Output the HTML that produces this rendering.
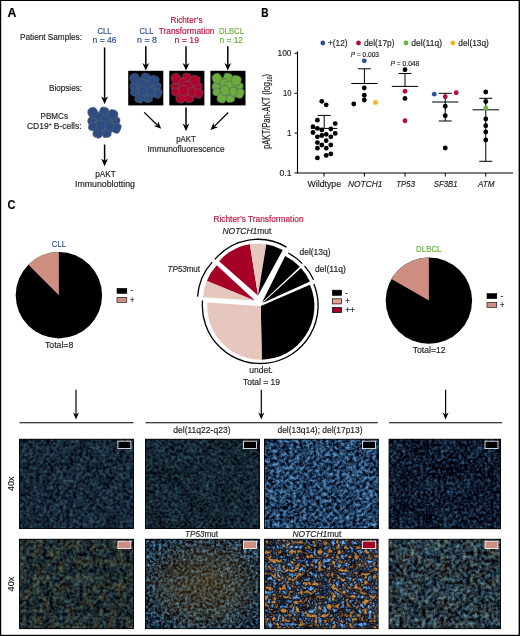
<!DOCTYPE html>
<html lang="en"><head><meta charset="utf-8"><title>Figure</title>
<style>html,body{margin:0;padding:0;background:#fff}svg{display:block}text{font-family:"Liberation Sans", sans-serif;stroke-width:0.18px}</style></head><body>
<svg width="520" height="636" viewBox="0 0 520 636">
<defs>
<filter id="f1" x="0" y="0" width="100%" height="100%" color-interpolation-filters="sRGB">
<feTurbulence type="fractalNoise" baseFrequency="0.3" numOctaves="3" seed="3" result="n1"/>
<feColorMatrix in="n1" type="matrix" values="0.3 0 0 0 -0.060  0.5 0 0 0 -0.093  0.45 0 0 0 -0.013  0 0 0 0 1" result="a"/>
<feTurbulence type="fractalNoise" baseFrequency="0.07" numOctaves="2" seed="31" result="n2"/>
<feColorMatrix in="n2" type="matrix" values="0.090 0 0 0 0.455  0.150 0 0 0 0.425  0.180 0 0 0 0.410  0 0 0 0 1" result="b"/>
<feComposite in="a" in2="b" operator="arithmetic" k1="0" k2="1" k3="1" k4="-0.5" result="ab"/>
</filter>
<filter id="f2" x="0" y="0" width="100%" height="100%" color-interpolation-filters="sRGB">
<feTurbulence type="fractalNoise" baseFrequency="0.32" numOctaves="3" seed="7" result="n1"/>
<feColorMatrix in="n1" type="matrix" values="0.28 0 0 0 -0.058  0.46 0 0 0 -0.081  0.42 0 0 0 -0.014  0 0 0 0 1" result="a"/>
<feTurbulence type="fractalNoise" baseFrequency="0.06" numOctaves="2" seed="32" result="n2"/>
<feColorMatrix in="n2" type="matrix" values="0.090 0 0 0 0.455  0.150 0 0 0 0.425  0.180 0 0 0 0.410  0 0 0 0 1" result="b"/>
<feComposite in="a" in2="b" operator="arithmetic" k1="0" k2="1" k3="1" k4="-0.5" result="ab"/>
</filter>
<filter id="f3" x="0" y="0" width="100%" height="100%" color-interpolation-filters="sRGB">
<feTurbulence type="fractalNoise" baseFrequency="0.3" numOctaves="3" seed="11" result="n1"/>
<feColorMatrix in="n1" type="matrix" values="0.7 0 0 0 -0.213  1.05 0 0 0 -0.270  1.3 0 0 0 -0.266  0 0 0 0 1" result="a"/>
<feTurbulence type="fractalNoise" baseFrequency="0.05" numOctaves="2" seed="33" result="n2"/>
<feColorMatrix in="n2" type="matrix" values="0.120 0 0 0 0.440  0.200 0 0 0 0.400  0.240 0 0 0 0.380  0 0 0 0 1" result="b"/>
<feComposite in="a" in2="b" operator="arithmetic" k1="0" k2="1" k3="1" k4="-0.5" result="ab"/>
</filter>
<filter id="f4" x="0" y="0" width="100%" height="100%" color-interpolation-filters="sRGB">
<feTurbulence type="fractalNoise" baseFrequency="0.34" numOctaves="3" seed="13" result="n1"/>
<feColorMatrix in="n1" type="matrix" values="0.4 0 0 0 -0.149  0.7 0 0 0 -0.248  0.8 0 0 0 -0.220  0 0 0 0 1" result="a"/>
<feTurbulence type="fractalNoise" baseFrequency="0.05" numOctaves="2" seed="34" result="n2"/>
<feColorMatrix in="n2" type="matrix" values="0.120 0 0 0 0.440  0.200 0 0 0 0.400  0.240 0 0 0 0.380  0 0 0 0 1" result="b"/>
<feComposite in="a" in2="b" operator="arithmetic" k1="0" k2="1" k3="1" k4="-0.5" result="ab"/>
</filter>
<filter id="f5" x="0" y="0" width="100%" height="100%" color-interpolation-filters="sRGB">
<feTurbulence type="fractalNoise" baseFrequency="0.3" numOctaves="3" seed="17" result="n1"/>
<feColorMatrix in="n1" type="matrix" values="0.4 0 0 0 -0.114  0.6 0 0 0 -0.151  0.5 0 0 0 -0.070  0 0 0 0 1" result="a"/>
<feTurbulence type="fractalNoise" baseFrequency="0.07" numOctaves="2" seed="35" result="n2"/>
<feColorMatrix in="n2" type="matrix" values="0.090 0 0 0 0.455  0.150 0 0 0 0.425  0.180 0 0 0 0.410  0 0 0 0 1" result="b"/>
<feComposite in="a" in2="b" operator="arithmetic" k1="0" k2="1" k3="1" k4="-0.5" result="ab"/>
<feTurbulence type="fractalNoise" baseFrequency="0.12" numOctaves="2" seed="5" result="n3"/>
<feColorMatrix in="n3" type="matrix" values="0 0.300 0 0 -0.102  0 0.198 0 0 -0.067  0 0.024 0 0 -0.008  0 0 0 0 1" result="o"/>
<feComposite in="ab" in2="o" operator="arithmetic" k1="0" k2="1" k3="1" k4="0"/>
</filter>
<filter id="f6" x="0" y="0" width="100%" height="100%" color-interpolation-filters="sRGB">
<feTurbulence type="fractalNoise" baseFrequency="0.34" numOctaves="3" seed="19" result="n1"/>
<feColorMatrix in="n1" type="matrix" values="0.7 0 0 0 -0.248  1.1 0 0 0 -0.354  1.3 0 0 0 -0.375  0 0 0 0 1" result="a"/>
<feTurbulence type="fractalNoise" baseFrequency="0.05" numOctaves="2" seed="36" result="n2"/>
<feColorMatrix in="n2" type="matrix" values="0.120 0 0 0 0.440  0.200 0 0 0 0.400  0.240 0 0 0 0.380  0 0 0 0 1" result="b"/>
<feComposite in="a" in2="b" operator="arithmetic" k1="0" k2="1" k3="1" k4="-0.5" result="ab"/>
</filter>
<filter id="f8" x="0" y="0" width="100%" height="100%" color-interpolation-filters="sRGB">
<feTurbulence type="fractalNoise" baseFrequency="0.27" numOctaves="3" seed="29" result="n1"/>
<feColorMatrix in="n1" type="matrix" values="0.65 0 0 0 -0.207  0.95 0 0 0 -0.279  1.0 0 0 0 -0.249  0 0 0 0 1" result="a"/>
<feTurbulence type="fractalNoise" baseFrequency="0.05" numOctaves="2" seed="38" result="n2"/>
<feColorMatrix in="n2" type="matrix" values="0.120 0 0 0 0.440  0.200 0 0 0 0.400  0.240 0 0 0 0.380  0 0 0 0 1" result="b"/>
<feComposite in="a" in2="b" operator="arithmetic" k1="0" k2="1" k3="1" k4="-0.5" result="ab"/>
<feTurbulence type="fractalNoise" baseFrequency="0.1" numOctaves="2" seed="8" result="n3"/>
<feColorMatrix in="n3" type="matrix" values="0 0.250 0 0 -0.085  0 0.170 0 0 -0.058  0 0.030 0 0 -0.010  0 0 0 0 1" result="o"/>
<feComposite in="ab" in2="o" operator="arithmetic" k1="0" k2="1" k3="1" k4="0"/>
</filter>
<filter id="f7" x="0" y="0" width="100%" height="100%" color-interpolation-filters="sRGB">
<feTurbulence type="fractalNoise" baseFrequency="0.22" numOctaves="3" seed="23" result="n1"/>
<feColorMatrix in="n1" type="matrix" values="3.6 0 0 0 -1.836  3.6 0 0 0 -1.836  3.6 0 0 0 -1.836  0 0 0 0 1" result="bg"/>
<feColorMatrix in="bg" type="matrix" values="0.392 0 0 0 0.016  0 0.627 0 0 0.039  0 0 0.804 0 0.110  0 0 0 0 1" result="b"/>
<feColorMatrix in="n1" type="matrix" values="-3.8 0 0 0 1.976  -3.8 0 0 0 1.976  -3.8 0 0 0 1.976  0 0 0 0 1" result="og"/>
<feTurbulence type="fractalNoise" baseFrequency="0.09" numOctaves="2" seed="4" result="n3"/>
<feColorMatrix in="n3" type="matrix" values="0 6 0 0 -0.600  0 6 0 0 -0.600  0 6 0 0 -0.600  0 0 0 0 1" result="m"/>
<feComposite in="og" in2="m" operator="arithmetic" k1="1" k2="0" k3="0" k4="0" result="om"/>
<feColorMatrix in="om" type="matrix" values="0.745 0 0 0 0  0 0.490 0 0 0  0 0 0.137 0 0  0 0 0 0 1" result="o"/>
<feComposite in="b" in2="o" operator="arithmetic" k1="0" k2="1" k3="1" k4="0" result="bo"/>
<feTurbulence type="fractalNoise" baseFrequency="0.05" numOctaves="2" seed="40" result="n2"/>
<feColorMatrix in="n2" type="matrix" values="0.2 0 0 0 0.400  0.2 0 0 0 0.400  0.2 0 0 0 0.400  0 0 0 0 1" result="l"/>
<feComposite in="bo" in2="l" operator="arithmetic" k1="0" k2="1" k3="1" k4="-0.5" result="fin"/>
<feGaussianBlur in="fin" stdDeviation="0.5" result="bl"/>
<feComposite in="bl" in2="SourceGraphic" operator="in"/>
</filter>
<radialGradient id="hz" cx="0.52" cy="0.5" r="0.62"><stop offset="0" stop-color="#8a5a14" stop-opacity="0.42"/><stop offset="0.6" stop-color="#8a5a14" stop-opacity="0.22"/><stop offset="1" stop-color="#8a5a14" stop-opacity="0"/></radialGradient>
</defs>
<rect x="0" y="0" width="520" height="636" fill="#fff"/>
<rect x="0" y="0" width="1.2" height="636" fill="#000"/>
<rect x="518.6" y="0" width="1.4" height="636" fill="#000"/>
<rect x="0" y="0" width="520" height="1" fill="#000"/>
<rect x="0" y="634.8" width="520" height="1.2" fill="#000"/>
<text x="7.40" y="16.90" font-size="12.6" fill="#000" stroke="#000" textLength="8.90" lengthAdjust="spacingAndGlyphs" font-weight="bold">A</text>
<text x="20.00" y="40.20" font-size="9" fill="#231f20" stroke="#231f20" textLength="62.00" lengthAdjust="spacingAndGlyphs">Patient Samples:</text>
<text x="49.00" y="90.70" font-size="9" fill="#231f20" stroke="#231f20" textLength="33.00" lengthAdjust="spacingAndGlyphs">Biopsies:</text>
<text x="40.50" y="118.60" font-size="9" fill="#231f20" stroke="#231f20" textLength="27.50" lengthAdjust="spacingAndGlyphs">PBMCs</text>
<text x="27" y="129.4" font-size="9" fill="#231f20" stroke="#231f20" textLength="54.5" lengthAdjust="spacingAndGlyphs">CD19<tspan font-size="5" dy="-3">+</tspan><tspan dy="3"> B-cells:</tspan></text>
<text x="97.50" y="33.50" font-size="9" fill="#30508f" stroke="#30508f" textLength="14.00" lengthAdjust="spacingAndGlyphs">CLL</text>
<text x="92.50" y="43.00" font-size="9" fill="#30508f" stroke="#30508f" textLength="24.00" lengthAdjust="spacingAndGlyphs">n = 46</text>
<text x="139.50" y="33.50" font-size="9" fill="#30508f" stroke="#30508f" textLength="14.00" lengthAdjust="spacingAndGlyphs">CLL</text>
<text x="137.00" y="43.00" font-size="9" fill="#30508f" stroke="#30508f" textLength="20.00" lengthAdjust="spacingAndGlyphs">n = 8</text>
<text x="170.50" y="23.00" font-size="9" fill="#c0143c" stroke="#c0143c" textLength="32.00" lengthAdjust="spacingAndGlyphs">Richter’s</text>
<text x="158.80" y="33.50" font-size="9" fill="#c0143c" stroke="#c0143c" textLength="55.70" lengthAdjust="spacingAndGlyphs">Transformation</text>
<text x="174.50" y="43.00" font-size="9" fill="#c0143c" stroke="#c0143c" textLength="24.50" lengthAdjust="spacingAndGlyphs">n = 19</text>
<text x="219.00" y="33.50" font-size="9" fill="#6ab43e" stroke="#6ab43e" textLength="25.00" lengthAdjust="spacingAndGlyphs">DLBCL</text>
<text x="219.50" y="43.00" font-size="9" fill="#6ab43e" stroke="#6ab43e" textLength="23.50" lengthAdjust="spacingAndGlyphs">n = 12</text>
<line x1="104.60" y1="47.50" x2="104.60" y2="98.53" stroke="#000" stroke-width="1.5"/>
<path d="M104.60 104.00L101.20 96.40L104.60 98.53L108.00 96.40Z" fill="#000"/>
<line x1="145.80" y1="46.20" x2="145.80" y2="65.13" stroke="#000" stroke-width="1.5"/>
<path d="M145.80 70.60L142.40 63.00L145.80 65.13L149.20 63.00Z" fill="#000"/>
<line x1="186.00" y1="46.20" x2="186.00" y2="65.13" stroke="#000" stroke-width="1.5"/>
<path d="M186.00 70.60L182.60 63.00L186.00 65.13L189.40 63.00Z" fill="#000"/>
<line x1="227.80" y1="46.20" x2="227.80" y2="65.13" stroke="#000" stroke-width="1.5"/>
<path d="M227.80 70.60L224.40 63.00L227.80 65.13L231.20 63.00Z" fill="#000"/>
<rect x="128.2" y="70.8" width="35.1" height="34.6" fill="#000"/>
<rect x="169.3" y="70.8" width="35.1" height="34.6" fill="#000"/>
<rect x="210.4" y="70.8" width="35.1" height="34.6" fill="#000"/>
<g transform="translate(129.90 73.20) scale(0.965)" fill="#2d4c82" stroke="#58606e" stroke-width="0.55">
<ellipse cx="16.8" cy="15.2" rx="14" ry="11.8" stroke="none"/>
<rect x="0.00" y="9.98" width="7.95" height="7.61" rx="3.26" ry="3.12" transform="rotate(0 3.98 13.79)"/>
<rect x="24.87" y="9.81" width="7.28" height="7.45" rx="2.98" ry="3.05" transform="rotate(10 28.51 13.54)"/>
<rect x="11.84" y="0.00" width="8.97" height="9.14" rx="3.68" ry="3.75" transform="rotate(10 16.33 4.57)"/>
<rect x="0.34" y="0.25" width="9.81" height="11.00" rx="4.02" ry="4.51" transform="rotate(-25 5.25 5.75)"/>
<rect x="8.04" y="5.75" width="8.46" height="8.12" rx="3.47" ry="3.33" transform="rotate(-25 12.27 9.81)"/>
<rect x="12.27" y="8.71" width="10.15" height="8.46" rx="4.16" ry="3.47" transform="rotate(0 17.34 12.94)"/>
<rect x="19.88" y="2.54" width="10.15" height="9.98" rx="4.16" ry="4.09" transform="rotate(15 24.96 7.53)"/>
<rect x="0.76" y="15.40" width="8.12" height="8.12" rx="3.33" ry="3.33" transform="rotate(10 4.82 19.46)"/>
<rect x="24.79" y="15.91" width="8.12" height="10.15" rx="3.33" ry="4.16" transform="rotate(20 28.85 20.98)"/>
<rect x="14.30" y="22.17" width="8.97" height="8.12" rx="3.68" ry="3.33" transform="rotate(-10 18.78 26.23)"/>
<rect x="5.33" y="20.56" width="9.48" height="10.15" rx="3.88" ry="4.16" transform="rotate(15 10.07 25.63)"/>
<rect x="17.68" y="14.64" width="8.12" height="9.31" rx="3.33" ry="3.82" transform="rotate(5 21.74 19.29)"/>
<rect x="8.63" y="12.94" width="9.14" height="10.15" rx="3.75" ry="4.16" transform="rotate(-5 13.20 18.02)"/>
</g>
<g transform="translate(171.00 73.20) scale(0.965)" fill="#b0022c" stroke="#58606e" stroke-width="0.55">
<ellipse cx="16.8" cy="15.2" rx="14" ry="11.8" stroke="none"/>
<rect x="0.00" y="9.98" width="7.95" height="7.61" rx="3.26" ry="3.12" transform="rotate(0 3.98 13.79)"/>
<rect x="24.87" y="9.81" width="7.28" height="7.45" rx="2.98" ry="3.05" transform="rotate(10 28.51 13.54)"/>
<rect x="11.84" y="0.00" width="8.97" height="9.14" rx="3.68" ry="3.75" transform="rotate(10 16.33 4.57)"/>
<rect x="0.34" y="0.25" width="9.81" height="11.00" rx="4.02" ry="4.51" transform="rotate(-25 5.25 5.75)"/>
<rect x="8.04" y="5.75" width="8.46" height="8.12" rx="3.47" ry="3.33" transform="rotate(-25 12.27 9.81)"/>
<rect x="12.27" y="8.71" width="10.15" height="8.46" rx="4.16" ry="3.47" transform="rotate(0 17.34 12.94)"/>
<rect x="19.88" y="2.54" width="10.15" height="9.98" rx="4.16" ry="4.09" transform="rotate(15 24.96 7.53)"/>
<rect x="0.76" y="15.40" width="8.12" height="8.12" rx="3.33" ry="3.33" transform="rotate(10 4.82 19.46)"/>
<rect x="24.79" y="15.91" width="8.12" height="10.15" rx="3.33" ry="4.16" transform="rotate(20 28.85 20.98)"/>
<rect x="14.30" y="22.17" width="8.97" height="8.12" rx="3.68" ry="3.33" transform="rotate(-10 18.78 26.23)"/>
<rect x="5.33" y="20.56" width="9.48" height="10.15" rx="3.88" ry="4.16" transform="rotate(15 10.07 25.63)"/>
<rect x="17.68" y="14.64" width="8.12" height="9.31" rx="3.33" ry="3.82" transform="rotate(5 21.74 19.29)"/>
<rect x="8.63" y="12.94" width="9.14" height="10.15" rx="3.75" ry="4.16" transform="rotate(-5 13.20 18.02)"/>
</g>
<g transform="translate(212.10 73.20) scale(0.965)" fill="#6bad3d" stroke="#58606e" stroke-width="0.55">
<ellipse cx="16.8" cy="15.2" rx="14" ry="11.8" stroke="none"/>
<rect x="0.00" y="9.98" width="7.95" height="7.61" rx="3.26" ry="3.12" transform="rotate(0 3.98 13.79)"/>
<rect x="24.87" y="9.81" width="7.28" height="7.45" rx="2.98" ry="3.05" transform="rotate(10 28.51 13.54)"/>
<rect x="11.84" y="0.00" width="8.97" height="9.14" rx="3.68" ry="3.75" transform="rotate(10 16.33 4.57)"/>
<rect x="0.34" y="0.25" width="9.81" height="11.00" rx="4.02" ry="4.51" transform="rotate(-25 5.25 5.75)"/>
<rect x="8.04" y="5.75" width="8.46" height="8.12" rx="3.47" ry="3.33" transform="rotate(-25 12.27 9.81)"/>
<rect x="12.27" y="8.71" width="10.15" height="8.46" rx="4.16" ry="3.47" transform="rotate(0 17.34 12.94)"/>
<rect x="19.88" y="2.54" width="10.15" height="9.98" rx="4.16" ry="4.09" transform="rotate(15 24.96 7.53)"/>
<rect x="0.76" y="15.40" width="8.12" height="8.12" rx="3.33" ry="3.33" transform="rotate(10 4.82 19.46)"/>
<rect x="24.79" y="15.91" width="8.12" height="10.15" rx="3.33" ry="4.16" transform="rotate(20 28.85 20.98)"/>
<rect x="14.30" y="22.17" width="8.97" height="8.12" rx="3.68" ry="3.33" transform="rotate(-10 18.78 26.23)"/>
<rect x="5.33" y="20.56" width="9.48" height="10.15" rx="3.88" ry="4.16" transform="rotate(15 10.07 25.63)"/>
<rect x="17.68" y="14.64" width="8.12" height="9.31" rx="3.33" ry="3.82" transform="rotate(5 21.74 19.29)"/>
<rect x="8.63" y="12.94" width="9.14" height="10.15" rx="3.75" ry="4.16" transform="rotate(-5 13.20 18.02)"/>
</g>
<g transform="translate(87.80 107.20) scale(1.0)" fill="#2d4c82" stroke="#58606e" stroke-width="0.55">
<ellipse cx="16.8" cy="15.2" rx="14" ry="11.8" stroke="none"/>
<rect x="0.00" y="9.98" width="7.95" height="7.61" rx="3.26" ry="3.12" transform="rotate(0 3.98 13.79)"/>
<rect x="24.87" y="9.81" width="7.28" height="7.45" rx="2.98" ry="3.05" transform="rotate(10 28.51 13.54)"/>
<rect x="11.84" y="0.00" width="8.97" height="9.14" rx="3.68" ry="3.75" transform="rotate(10 16.33 4.57)"/>
<rect x="0.34" y="0.25" width="9.81" height="11.00" rx="4.02" ry="4.51" transform="rotate(-25 5.25 5.75)"/>
<rect x="8.04" y="5.75" width="8.46" height="8.12" rx="3.47" ry="3.33" transform="rotate(-25 12.27 9.81)"/>
<rect x="12.27" y="8.71" width="10.15" height="8.46" rx="4.16" ry="3.47" transform="rotate(0 17.34 12.94)"/>
<rect x="19.88" y="2.54" width="10.15" height="9.98" rx="4.16" ry="4.09" transform="rotate(15 24.96 7.53)"/>
<rect x="0.76" y="15.40" width="8.12" height="8.12" rx="3.33" ry="3.33" transform="rotate(10 4.82 19.46)"/>
<rect x="24.79" y="15.91" width="8.12" height="10.15" rx="3.33" ry="4.16" transform="rotate(20 28.85 20.98)"/>
<rect x="14.30" y="22.17" width="8.97" height="8.12" rx="3.68" ry="3.33" transform="rotate(-10 18.78 26.23)"/>
<rect x="5.33" y="20.56" width="9.48" height="10.15" rx="3.88" ry="4.16" transform="rotate(15 10.07 25.63)"/>
<rect x="17.68" y="14.64" width="8.12" height="9.31" rx="3.33" ry="3.82" transform="rotate(5 21.74 19.29)"/>
<rect x="8.63" y="12.94" width="9.14" height="10.15" rx="3.75" ry="4.16" transform="rotate(-5 13.20 18.02)"/>
</g>
<line x1="144.20" y1="112.40" x2="157.47" y2="125.20" stroke="#000" stroke-width="1.3"/>
<path d="M161.20 128.80L153.80 126.10L157.47 125.20L158.24 121.50Z" fill="#000"/>
<line x1="186.00" y1="107.40" x2="186.00" y2="125.73" stroke="#000" stroke-width="1.5"/>
<path d="M186.00 131.20L182.60 123.60L186.00 125.73L189.40 123.60Z" fill="#000"/>
<line x1="228.20" y1="112.50" x2="214.28" y2="126.34" stroke="#000" stroke-width="1.3"/>
<path d="M210.60 130.00L213.45 122.65L214.28 126.34L217.96 127.19Z" fill="#000"/>
<text x="176.20" y="142.20" font-size="9" fill="#231f20" stroke="#231f20" textLength="19.60" lengthAdjust="spacingAndGlyphs">pAKT</text>
<text x="147.50" y="152.00" font-size="9" fill="#231f20" stroke="#231f20" textLength="77.00" lengthAdjust="spacingAndGlyphs">Immunofluorescence</text>
<line x1="104.60" y1="144.50" x2="104.60" y2="160.83" stroke="#000" stroke-width="1.5"/>
<path d="M104.60 166.30L101.20 158.70L104.60 160.83L108.00 158.70Z" fill="#000"/>
<text x="95.30" y="176.90" font-size="9" fill="#231f20" stroke="#231f20" textLength="20.40" lengthAdjust="spacingAndGlyphs">pAKT</text>
<text x="75.00" y="186.70" font-size="9" fill="#231f20" stroke="#231f20" textLength="60.00" lengthAdjust="spacingAndGlyphs">Immunoblotting</text>
<text x="261.20" y="16.80" font-size="12.6" fill="#000" stroke="#000" textLength="7.30" lengthAdjust="spacingAndGlyphs" font-weight="bold">B</text>
<circle cx="322.80" cy="43.00" r="2.4" fill="#2c4f9a"/>
<text x="328.00" y="45.80" font-size="9" fill="#231f20" stroke="#231f20" textLength="19.50" lengthAdjust="spacingAndGlyphs">+(12)</text>
<circle cx="358.50" cy="43.00" r="2.4" fill="#b5102f"/>
<text x="364.00" y="45.80" font-size="9" fill="#231f20" stroke="#231f20" textLength="30.50" lengthAdjust="spacingAndGlyphs">del(17p)</text>
<circle cx="406.00" cy="43.00" r="2.4" fill="#6cb33f"/>
<text x="411.30" y="45.80" font-size="9" fill="#231f20" stroke="#231f20" textLength="30.70" lengthAdjust="spacingAndGlyphs">del(11q)</text>
<circle cx="452.80" cy="43.00" r="2.4" fill="#f2b51c"/>
<text x="458.30" y="45.80" font-size="9" fill="#231f20" stroke="#231f20" textLength="30.50" lengthAdjust="spacingAndGlyphs">del(13q)</text>
<path d="M297.5 51.2V173.5M297 173H513" stroke="#000" stroke-width="1.1" fill="none"/>
<line x1="294.6" x2="297.5" y1="53.25" y2="53.25" stroke="#000" stroke-width="1"/>
<line x1="294.6" x2="297.5" y1="93.25" y2="93.25" stroke="#000" stroke-width="1"/>
<line x1="294.6" x2="297.5" y1="133.1" y2="133.1" stroke="#000" stroke-width="1"/>
<line x1="294.6" x2="297.5" y1="173" y2="173" stroke="#000" stroke-width="1"/>
<line x1="324" x2="324" y1="173" y2="176.6" stroke="#000" stroke-width="1"/>
<line x1="364.4" x2="364.4" y1="173" y2="176.6" stroke="#000" stroke-width="1"/>
<line x1="405" x2="405" y1="173" y2="176.6" stroke="#000" stroke-width="1"/>
<line x1="445.25" x2="445.25" y1="173" y2="176.6" stroke="#000" stroke-width="1"/>
<line x1="485.75" x2="485.75" y1="173" y2="176.6" stroke="#000" stroke-width="1"/>
<text x="277.50" y="56.20" font-size="9" fill="#231f20" stroke="#231f20" textLength="14.00" lengthAdjust="spacingAndGlyphs">100</text>
<text x="283.00" y="96.20" font-size="9" fill="#231f20" stroke="#231f20" textLength="8.50" lengthAdjust="spacingAndGlyphs">10</text>
<text x="287.00" y="136.00" font-size="9" fill="#231f20" stroke="#231f20" textLength="4.50" lengthAdjust="spacingAndGlyphs">1</text>
<text x="279.50" y="176.00" font-size="9" fill="#231f20" stroke="#231f20" textLength="12.00" lengthAdjust="spacingAndGlyphs">0.1</text>
<text transform="translate(270.4 149) rotate(-90)" font-size="10" fill="#231f20" stroke="#231f20" textLength="75" lengthAdjust="spacingAndGlyphs">pAKT/Pan-AKT (log<tspan font-size="6.5" dy="1.5">10</tspan><tspan dy="-1.5">)</tspan></text>
<text x="307.50" y="187.00" font-size="9" fill="#231f20" stroke="#231f20" textLength="33.50" lengthAdjust="spacingAndGlyphs">Wildtype</text>
<text x="348.00" y="187.00" font-size="9" fill="#231f20" stroke="#231f20" textLength="34.50" lengthAdjust="spacingAndGlyphs" font-style="italic">NOTCH1</text>
<text x="396.30" y="187.00" font-size="9" fill="#231f20" stroke="#231f20" textLength="18.70" lengthAdjust="spacingAndGlyphs" font-style="italic">TP53</text>
<text x="433.80" y="187.00" font-size="9" fill="#231f20" stroke="#231f20" textLength="23.70" lengthAdjust="spacingAndGlyphs" font-style="italic">SF3B1</text>
<text x="478.00" y="187.00" font-size="9" fill="#231f20" stroke="#231f20" textLength="16.50" lengthAdjust="spacingAndGlyphs" font-style="italic">ATM</text>
<text x="350.80" y="56.80" font-size="7.3" fill="#231f20" stroke="#231f20" textLength="28.20" lengthAdjust="spacingAndGlyphs"><tspan font-style="italic">P</tspan> = 0.003</text>
<text x="390.50" y="66.30" font-size="7.3" fill="#231f20" stroke="#231f20" textLength="28.80" lengthAdjust="spacingAndGlyphs"><tspan font-style="italic">P</tspan> = 0.048</text>
<path d="M311.0 128.4H337.4M317.7 115.4H330.7M324.2 115.4V128.4" stroke="#000" stroke-width="1" fill="none"/>
<path d="M351.2 83.5H377.59999999999997M357.9 68.8H370.9M364.4 68.8V83.5" stroke="#000" stroke-width="1" fill="none"/>
<path d="M391.8 86.4H418.2M398.5 73.5H411.5M405 73.5V86.4" stroke="#000" stroke-width="1" fill="none"/>
<path d="M432.05 102H458.45M438.75 93.3H451.75M445.25 93.3V102M438.75 121H451.75M445.25 102V121" stroke="#000" stroke-width="1" fill="none"/>
<path d="M472.55 109.8H498.95M479.25 98.3H492.25M485.75 98.3V109.8M479.25 161.3H492.25M485.75 109.8V161.3" stroke="#000" stroke-width="1" fill="none"/>
<circle cx="321.80" cy="101.30" r="2.4" fill="#000"/>
<circle cx="326.20" cy="104.80" r="2.4" fill="#000"/>
<circle cx="317.40" cy="120.20" r="2.4" fill="#000"/>
<circle cx="335.20" cy="123.60" r="2.4" fill="#000"/>
<circle cx="313.00" cy="126.70" r="2.4" fill="#000"/>
<circle cx="317.40" cy="128.40" r="2.4" fill="#000"/>
<circle cx="321.80" cy="130.00" r="2.4" fill="#000"/>
<circle cx="330.80" cy="129.00" r="2.4" fill="#000"/>
<circle cx="313.00" cy="132.50" r="2.4" fill="#000"/>
<circle cx="335.20" cy="133.40" r="2.4" fill="#000"/>
<circle cx="317.40" cy="136.80" r="2.4" fill="#000"/>
<circle cx="321.80" cy="135.50" r="2.4" fill="#000"/>
<circle cx="326.20" cy="134.30" r="2.4" fill="#000"/>
<circle cx="330.80" cy="136.80" r="2.4" fill="#000"/>
<circle cx="326.20" cy="140.70" r="2.4" fill="#000"/>
<circle cx="317.40" cy="142.60" r="2.4" fill="#000"/>
<circle cx="321.80" cy="145.00" r="2.4" fill="#000"/>
<circle cx="330.80" cy="145.00" r="2.4" fill="#000"/>
<circle cx="317.40" cy="148.20" r="2.4" fill="#000"/>
<circle cx="326.20" cy="148.20" r="2.4" fill="#000"/>
<circle cx="330.80" cy="153.90" r="2.4" fill="#000"/>
<circle cx="326.20" cy="155.40" r="2.4" fill="#000"/>
<circle cx="317.40" cy="157.90" r="2.4" fill="#000"/>
<circle cx="364.30" cy="60.80" r="2.4" fill="#2c4f9a"/>
<circle cx="364.30" cy="88.00" r="2.4" fill="#000"/>
<circle cx="364.30" cy="95.25" r="2.4" fill="#000"/>
<circle cx="364.30" cy="100.00" r="2.4" fill="#000"/>
<circle cx="375.50" cy="102.50" r="2.4" fill="#f2b51c"/>
<circle cx="353.75" cy="104.00" r="2.4" fill="#000"/>
<circle cx="405.00" cy="69.75" r="2.4" fill="#000"/>
<circle cx="405.00" cy="91.25" r="2.4" fill="#b5102f"/>
<circle cx="405.00" cy="98.40" r="2.4" fill="#000"/>
<circle cx="405.00" cy="120.75" r="2.4" fill="#b5102f"/>
<circle cx="434.25" cy="94.20" r="2.4" fill="#2c4f9a"/>
<circle cx="456.25" cy="92.75" r="2.4" fill="#b5102f"/>
<circle cx="445.25" cy="96.75" r="2.4" fill="#b5102f"/>
<circle cx="445.25" cy="106.25" r="2.4" fill="#000"/>
<circle cx="445.25" cy="115.75" r="2.4" fill="#000"/>
<circle cx="445.25" cy="148.00" r="2.4" fill="#000"/>
<circle cx="485.75" cy="92.00" r="2.4" fill="#000"/>
<circle cx="485.75" cy="101.50" r="2.4" fill="#000"/>
<circle cx="485.75" cy="108.00" r="2.4" fill="#6cb33f"/>
<circle cx="485.75" cy="119.00" r="2.4" fill="#000"/>
<circle cx="485.75" cy="125.75" r="2.4" fill="#000"/>
<circle cx="485.75" cy="132.00" r="2.4" fill="#000"/>
<circle cx="485.75" cy="140.00" r="2.4" fill="#000"/>
<text x="7.50" y="208.50" font-size="12.6" fill="#000" stroke="#000" textLength="7.90" lengthAdjust="spacingAndGlyphs" font-weight="bold">C</text>
<circle cx="58.9" cy="295.2" r="43.2" fill="#000"/>
<path d="M58.90 295.20L28.35 264.65A43.2 43.2 0 0 1 58.90 252.00Z" fill="#ce8e81"/>
<text x="51.80" y="247.00" font-size="9" fill="#30508f" stroke="#30508f" textLength="14.20" lengthAdjust="spacingAndGlyphs">CLL</text>
<text x="45.00" y="348.30" font-size="9" fill="#231f20" stroke="#231f20" textLength="28.30" lengthAdjust="spacingAndGlyphs">Total=8</text>
<rect x="117" y="288.4" width="9.8" height="5" fill="#000" stroke="#000" stroke-width="0.6"/>
<rect x="117" y="297.3" width="9.8" height="5" fill="#ce8e81" stroke="#000" stroke-width="0.6"/>
<text x="130.50" y="293.30" font-size="9" fill="#231f20" stroke="#231f20" textLength="2.50" lengthAdjust="spacingAndGlyphs">-</text>
<text x="130.00" y="302.60" font-size="9" fill="#231f20" stroke="#231f20" textLength="4.40" lengthAdjust="spacingAndGlyphs">+</text>
<circle cx="428.9" cy="300.6" r="43.2" fill="#000"/>
<path d="M428.90 300.60L391.49 279.00A43.2 43.2 0 0 1 428.90 257.40Z" fill="#ce8e81"/>
<text x="416.10" y="252.20" font-size="9" fill="#6ab43e" stroke="#6ab43e" textLength="25.40" lengthAdjust="spacingAndGlyphs">DLBCL</text>
<text x="412.70" y="353.40" font-size="9" fill="#231f20" stroke="#231f20" textLength="32.90" lengthAdjust="spacingAndGlyphs">Total=12</text>
<rect x="487" y="293.6" width="9.8" height="5" fill="#000" stroke="#000" stroke-width="0.6"/>
<rect x="487" y="302.5" width="9.8" height="5" fill="#ce8e81" stroke="#000" stroke-width="0.6"/>
<text x="500.50" y="298.50" font-size="9" fill="#231f20" stroke="#231f20" textLength="2.50" lengthAdjust="spacingAndGlyphs">-</text>
<text x="500.00" y="307.80" font-size="9" fill="#231f20" stroke="#231f20" textLength="4.40" lengthAdjust="spacingAndGlyphs">+</text>
<path d="M260.80 306.10L309.95 284.73A53.6 53.6 0 0 1 261.74 359.69Z" fill="#000"/>
<path d="M260.80 306.10L261.74 359.69A53.6 53.6 0 0 1 207.32 302.55Z" fill="#e5c7be"/>
<path d="M313.88 283.91A57.9 57.9 0 1 1 202.52 300.55" fill="none" stroke="#000" stroke-width="1.3"/>
<path d="M258.00 295.60L219.05 261.14A52 52 0 0 1 249.87 244.24Z" fill="#a50026"/>
<path d="M258.00 295.60L249.87 244.24A52 52 0 0 1 266.31 244.27Z" fill="#e5c7be"/>
<path d="M258.00 295.60L266.31 244.27A52 52 0 0 1 282.81 249.90Z" fill="#000"/>
<path d="M214.87 259.41A56.3 56.3 0 0 1 286.57 247.09" fill="none" stroke="#000" stroke-width="1.3"/>
<path d="M254.90 300.60L203.01 297.15A52 52 0 0 1 206.86 280.70Z" fill="#e5c7be"/>
<path d="M254.90 300.60L206.86 280.70A52 52 0 0 1 216.75 265.27Z" fill="#a50026"/>
<path d="M197.54 296.59A57.5 57.5 0 0 1 212.17 262.12" fill="none" stroke="#000" stroke-width="1.3"/>
<path d="M262.00 302.50L285.20 255.96A52 52 0 0 1 299.78 266.77Z" fill="#000"/>
<path d="M288.29 253.05A56 56 0 0 1 302.28 263.60" fill="none" stroke="#000" stroke-width="1.3"/>
<path d="M262.60 303.00L301.00 267.94A52 52 0 0 1 309.92 281.44Z" fill="#000"/>
<path d="M304.54 265.89A56 56 0 0 1 313.56 279.78" fill="none" stroke="#000" stroke-width="1.3"/>
<text x="213.50" y="222.00" font-size="9" fill="#c0143c" stroke="#c0143c" textLength="90.00" lengthAdjust="spacingAndGlyphs">Richter’s Transformation</text>
<text x="222.5" y="233.8" font-size="9" fill="#231f20" stroke="#231f20" textLength="48.8" lengthAdjust="spacingAndGlyphs"><tspan font-style="italic">NOTCH1</tspan>mut</text>
<text x="167.5" y="272" font-size="9" fill="#231f20" stroke="#231f20" textLength="32.5" lengthAdjust="spacingAndGlyphs"><tspan font-style="italic">TP53</tspan>mut</text>
<text x="299.50" y="255.00" font-size="9" fill="#231f20" stroke="#231f20" textLength="31.00" lengthAdjust="spacingAndGlyphs">del(13q)</text>
<text x="315.00" y="272.00" font-size="9" fill="#231f20" stroke="#231f20" textLength="30.80" lengthAdjust="spacingAndGlyphs">del(11q)</text>
<text x="249.30" y="372.80" font-size="9" fill="#231f20" stroke="#231f20" textLength="23.70" lengthAdjust="spacingAndGlyphs">undet.</text>
<text x="243.00" y="384.50" font-size="9" fill="#231f20" stroke="#231f20" textLength="37.00" lengthAdjust="spacingAndGlyphs">Total = 19</text>
<rect x="332.5" y="290.2" width="9" height="5.1" fill="#000" stroke="#000" stroke-width="0.7"/>
<rect x="332.5" y="298.8" width="9" height="5.1" fill="#e6a192" stroke="#000" stroke-width="0.7"/>
<rect x="332.5" y="307.5" width="9" height="5.1" fill="#a50026" stroke="#000" stroke-width="0.7"/>
<text x="345.20" y="295.60" font-size="9" fill="#231f20" stroke="#231f20" textLength="2.40" lengthAdjust="spacingAndGlyphs">-</text>
<text x="345.20" y="304.40" font-size="9" fill="#231f20" stroke="#231f20" textLength="4.60" lengthAdjust="spacingAndGlyphs">+</text>
<text x="345.20" y="313.00" font-size="9" fill="#231f20" stroke="#231f20" textLength="9.80" lengthAdjust="spacingAndGlyphs">++</text>
<line x1="76.00" y1="389.80" x2="76.00" y2="414.50" stroke="#000" stroke-width="1.2"/>
<path d="M76.00 419.40L73.00 412.60L76.00 414.50L79.00 412.60Z" fill="#000"/>
<line x1="261.30" y1="389.80" x2="261.30" y2="414.50" stroke="#000" stroke-width="1.2"/>
<path d="M261.30 419.40L258.30 412.60L261.30 414.50L264.30 412.60Z" fill="#000"/>
<line x1="445.60" y1="389.80" x2="445.60" y2="414.50" stroke="#000" stroke-width="1.2"/>
<path d="M445.60 419.40L442.60 412.60L445.60 414.50L448.60 412.60Z" fill="#000"/>
<path d="M19.5 422.7H133.5M145.5 422.7H377.8M389 422.7H502.2" stroke="#000" stroke-width="1.1"/>
<text x="173.30" y="433.00" font-size="9" fill="#231f20" stroke="#231f20" textLength="57.20" lengthAdjust="spacingAndGlyphs">del(11q22-q23)</text>
<text x="277.50" y="433.00" font-size="9" fill="#231f20" stroke="#231f20" textLength="85.00" lengthAdjust="spacingAndGlyphs">del(13q14); del(17p13)</text>
<text x="185" y="536.8" font-size="9" fill="#231f20" stroke="#231f20" textLength="33" lengthAdjust="spacingAndGlyphs"><tspan font-style="italic">TP53</tspan>mut</text>
<text x="292.5" y="536.8" font-size="9" fill="#231f20" stroke="#231f20" textLength="48.8" lengthAdjust="spacingAndGlyphs"><tspan font-style="italic">NOTCH1</tspan>mut</text>
<text transform="translate(14 491) rotate(-90)" font-size="9" fill="#231f20" stroke="#231f20" textLength="14.6" lengthAdjust="spacingAndGlyphs">40x</text>
<text transform="translate(14 591.4) rotate(-90)" font-size="9" fill="#231f20" stroke="#231f20" textLength="14.6" lengthAdjust="spacingAndGlyphs">40x</text>
<rect x="19.5" y="439.2" width="114" height="89.4" fill="#0c1a28"/>
<rect x="19.5" y="439.2" width="114" height="89.4" filter="url(#f1)"/>
<rect x="19.5" y="439.2" width="114" height="89.4" fill="none" stroke="#000" stroke-width="0.8"/>
<rect x="117.90" y="441.20" width="13" height="7.4" fill="#000" stroke="#fff" stroke-width="0.8"/>
<rect x="145.5" y="439.2" width="113.6" height="89.4" fill="#0a1826"/>
<rect x="145.5" y="439.2" width="113.6" height="89.4" filter="url(#f2)"/>
<rect x="145.5" y="439.2" width="113.6" height="89.4" fill="none" stroke="#000" stroke-width="0.8"/>
<rect x="243.50" y="441.20" width="13" height="7.4" fill="#000" stroke="#fff" stroke-width="0.8"/>
<rect x="264.5" y="439.2" width="113.6" height="89.4" fill="#0a1630"/>
<rect x="264.5" y="439.2" width="113.6" height="89.4" filter="url(#f3)"/>
<rect x="264.5" y="439.2" width="113.6" height="89.4" fill="none" stroke="#000" stroke-width="0.8"/>
<rect x="362.50" y="441.20" width="13" height="7.4" fill="#000" stroke="#fff" stroke-width="0.8"/>
<rect x="389" y="439.2" width="111.6" height="89.6" fill="#070f20"/>
<rect x="389" y="439.2" width="111.6" height="89.6" filter="url(#f4)"/>
<rect x="389" y="439.2" width="111.6" height="89.6" fill="none" stroke="#000" stroke-width="0.8"/>
<rect x="485.00" y="441.20" width="13" height="7.4" fill="#000" stroke="#fff" stroke-width="0.8"/>
<rect x="19.5" y="539.2" width="114" height="89.5" fill="#10181e"/>
<rect x="19.5" y="539.2" width="114" height="89.5" filter="url(#f5)"/>
<rect x="19.5" y="539.2" width="114" height="89.5" fill="none" stroke="#000" stroke-width="0.8"/>
<rect x="117.90" y="541.20" width="13" height="7.4" fill="#ce8e81" stroke="#fff" stroke-width="0.8"/>
<rect x="145.5" y="539.2" width="113.6" height="89.5" fill="#0e1620"/>
<rect x="145.5" y="539.2" width="113.6" height="89.5" filter="url(#f6)"/>
<rect x="145.5" y="539.2" width="113.6" height="89.5" fill="url(#hz)"/>
<rect x="145.5" y="539.2" width="113.6" height="89.5" fill="none" stroke="#000" stroke-width="0.8"/>
<rect x="243.50" y="541.20" width="13" height="7.4" fill="#ce8e81" stroke="#fff" stroke-width="0.8"/>
<rect x="264.5" y="539.2" width="113.6" height="89.5" fill="#0a1018"/>
<rect x="264.5" y="539.2" width="113.6" height="89.5" filter="url(#f7)"/>
<rect x="264.5" y="539.2" width="113.6" height="89.5" fill="none" stroke="#000" stroke-width="0.8"/>
<rect x="362.50" y="541.20" width="13" height="7.4" fill="#a50026" stroke="#fff" stroke-width="0.8"/>
<rect x="389" y="539.2" width="111.6" height="89.5" fill="#0a1420"/>
<rect x="389" y="539.2" width="111.6" height="89.5" filter="url(#f8)"/>
<rect x="389" y="539.2" width="111.6" height="89.5" fill="none" stroke="#000" stroke-width="0.8"/>
<rect x="485.00" y="541.20" width="13" height="7.4" fill="#ce8e81" stroke="#fff" stroke-width="0.8"/>
</svg></body></html>
